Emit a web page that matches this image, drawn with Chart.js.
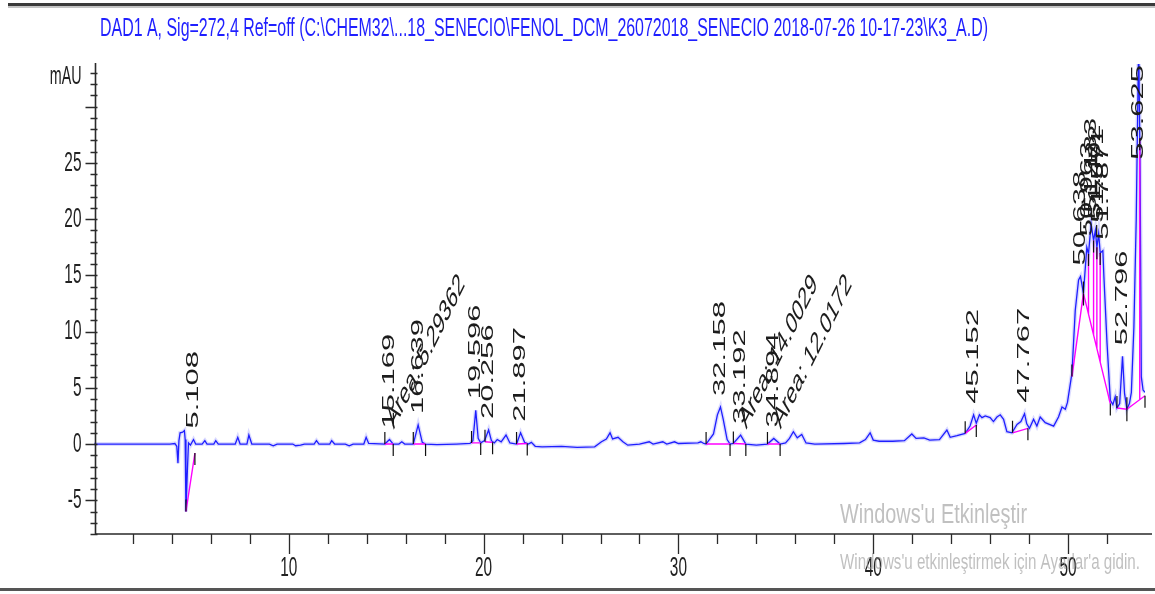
<!DOCTYPE html>
<html>
<head>
<meta charset="utf-8">
<script src="https://cdn.jsdelivr.net/npm/chart.js@4.4.1/dist/chart.umd.min.js"></script>
<style>
  html, body { margin: 0; padding: 0; background: #ffffff; }
  #wrap { width: 1155px; height: 594px; }
</style>
</head>
<body>
<div id="wrap"><canvas id="chrom" width="1155" height="594"></canvas></div>
<script>
// DAD1 A signal at 272 nm: retention time (min) and absorbance (mAU)
const traceTimes = [
  0, 3.9, 4.15, 4.25, 4.31, 4.36, 4.42, 4.55, 4.64, 4.68, 4.72, 4.79, 4.85, 4.95, 5.108, 5.22,
  5.55, 5.69, 5.8, 6.15, 6.25, 6.38, 7.25, 7.38, 7.5, 7.85, 7.95, 8.1, 9.0, 9.2, 9.4, 10.2,
  10.35, 10.6, 10.8, 11.3, 11.42, 11.55, 12.1, 12.2, 12.35, 12.9, 13.1, 13.3, 13.85, 13.97, 14.1, 14.93,
  15.169, 15.36, 15.65, 15.8, 15.95, 16.39, 16.639, 16.85, 17.02, 17.6, 18.6, 19.3, 19.45, 19.596,
  19.72, 19.85, 20.05, 20.256, 20.4, 20.55, 20.7, 20.9, 21.15, 21.35, 21.69, 21.897, 22.1, 22.3,
  22.45, 22.65, 23.0, 24.0, 24.8, 25.7, 26.05, 26.3, 26.49, 26.62, 26.9, 27.15, 27.4, 28.0, 28.5,
  28.7, 29.2, 29.4, 29.8, 30.0, 31.0, 31.15, 31.3, 31.42, 31.8, 32.0, 32.158, 32.3, 32.5, 32.65,
  32.82, 33.192, 33.46, 34.0, 34.57, 34.894, 35.22, 35.5, 35.7, 35.9, 36.1, 36.33, 36.55, 37.0,
  38.5, 39.3, 39.6, 39.84, 40.0, 40.3, 41.0, 41.6, 41.98, 42.2, 42.6, 42.9, 43.4, 43.78, 43.95,
  44.3, 44.72, 44.97, 45.152, 45.29, 45.45, 45.58, 45.75, 46.0, 46.17, 46.35, 46.52, 46.69, 46.86,
  47.12, 47.38, 47.58, 47.767, 47.88, 48.02, 48.23, 48.4, 48.57, 48.83, 49.26, 49.51, 49.69, 49.86,
  49.97, 50.2, 50.37, 50.54, 50.638, 50.79, 50.963, 51.05, 51.183, 51.31, 51.402, 51.48, 51.571,
  51.65, 51.787, 51.84, 52.0, 52.17, 52.3, 52.42, 52.51, 52.65, 52.796, 52.9, 53.02, 53.15, 53.25,
  53.38, 53.5, 53.625, 53.7, 53.76, 53.85, 53.95
];
const traceSignal = [
  0, 0, 0.05, -0.2, -1.7, 0.3, 1.0, 1.05, 1.2, 0.4, -6.0, -2.5, 0.1, -0.1, 0.4, 0.0,
  0.0, 0.3, 0.0, 0.0, 0.3, 0.0, 0.0, 0.6, 0.0, 0.0, 0.8, 0.0, 0.0, -0.15, 0.0, 0.0,
  -0.15, -0.1, 0.0, 0.0, 0.3, 0.0, 0.0, 0.3, 0.0, 0.0, -0.15, 0.0, 0.0, 0.6, 0.05, 0.0,
  0.4, 0.0, 0.0, 0.2, 0.0, 0.0, 1.7, 0.15, 0.0, -0.05, 0.0, 0.05, 0.3, 3.0,
  0.5, 0.1, 0.3, 1.25, 0.3, 0.1, 0.4, 0.2, 0.8, 0.1, 0.0, 1.0, 0.15, 0.0,
  0.15, -0.2, -0.25, -0.2, -0.3, -0.25, 0.2, 0.45, 1.0, 0.45, 0.6, 0.2, -0.1, 0.0, 0.2,
  0.0, 0.2, 0.0, 0.2, 0.05, 0.1, 0.2, 0.05, 0.0, 0.9, 2.6, 3.3, 2.2, 0.4, 0.0,
  0.05, 0.8, 0.0, -0.1, 0.0, 0.5, 0.0, 0.1, 0.5, 1.1, 0.55, 0.85, 0.1, 0.0,
  0.05, 0.1, 0.4, 1.0, 0.35, 0.25, 0.25, 0.3, 0.9, 0.5, 0.55, 0.35, 0.4, 1.25, 0.6,
  0.75, 0.95, 1.6, 2.6, 1.85, 2.6, 2.35, 2.5, 2.35, 2.0, 2.4, 2.6, 2.2, 1.1,
  1.0, 1.75, 2.0, 2.7, 1.8, 1.4, 2.2, 1.6, 2.4, 1.9, 1.6, 2.4, 3.3, 3.1,
  3.7, 6.3, 11.9, 14.6, 14.9, 13.4, 17.5, 16.9, 19.6, 18.1, 19.0, 17.5, 18.7,
  17.0, 17.2, 14.9, 9.0, 3.9, 3.5, 4.2, 3.2, 3.6, 7.8, 4.5, 3.1, 3.6, 4.6,
  10.4, 20.0, 36.0, 24.0, 6.0, 4.8, 4.6
];

// Integrated peaks: retention times printed above each peak
const peakTimes = [5.108, 15.169, 16.639, 19.596, 20.256, 21.897, 32.158, 33.192, 34.894,
  45.152, 47.767, 50.638, 50.963, 51.183, 51.402, 51.571, 51.787, 52.796, 53.625];

// Manually integrated peaks and their areas
const areaPeaks = [15.169, 33.192, 34.894];
const areaValues = ['5.29362', '14.0029', '12.0172'];

// Integration baselines: start time, start level, end time, end level
const baseStartT = [4.72, 14.93, 16.39, 19.38, 20.07, 21.69, 31.42, 32.82, 34.57, 44.72, 47.15, 50.2, 50.79, 52.51, 53.02];
const baseStartY = [-6.0, 0.0, 0.0, 0.1, 0.2, 0.0, 0.0, 0.05, 0.0, 0.95, 1.0, 6.0, 13.4, 3.2, 3.1];
const baseEndT   = [5.18, 15.36, 17.02, 19.85, 20.46, 22.24, 32.65, 33.46, 35.22, 45.29, 47.94, 50.79, 52.17, 53.02, 53.95];
const baseEndY   = [-0.8, 0.0, 0.0, 0.1, 0.15, 0.05, 0.0, 0.0, 0.0, 1.7, 1.4, 13.4, 3.6, 3.1, 4.3];

// Valley drop lines inside the late cluster
const dropTimes = [51.05, 51.31, 51.48, 51.65, 53.68];

// Axis ticks
const xTickLabels = [10, 20, 30, 40, 50];
const yTickLabels = [-5, 0, 5, 10, 15, 20, 25];

const titleText = 'DAD1 A, Sig=272,4 Ref=off (C:\\CHEM32\\...18_SENECIO\\FENOL_DCM_26072018_SENECIO 2018-07-26 10-17-23\\K3_A.D)';
const yUnit = 'mAU';
const noticeLines = ["Windows'u Etkinleştir", "Windows'u etkinleştirmek için Ayarlar'a gidin."];

const FONT = '"Liberation Sans", Arial, Helvetica, sans-serif';
const SQUEEZE = 0.55;

function interp(ts, ys, t) {
  if (t <= ts[0]) return ys[0];
  for (let i = 1; i < ts.length; i++) {
    if (t <= ts[i]) {
      const f = (t - ts[i - 1]) / (ts[i] - ts[i - 1]);
      return ys[i - 1] + f * (ys[i] - ys[i - 1]);
    }
  }
  return ys[ys.length - 1];
}
function traceAt(t) { return interp(traceTimes, traceSignal, t); }
function baseAt(t) {
  for (let i = 0; i < baseStartT.length; i++) {
    if (t >= baseStartT[i] && t <= baseEndT[i]) {
      const f = (t - baseStartT[i]) / (baseEndT[i] - baseStartT[i]);
      return baseStartY[i] + f * (baseEndY[i] - baseStartY[i]);
    }
  }
  return 0;
}

const tracePts = traceTimes.map((t, i) => ({ x: t, y: traceSignal[i] }));
const basePts = [];
baseStartT.forEach((s, i) => {
  basePts.push({ x: s, y: baseStartY[i] }, { x: baseEndT[i], y: baseEndY[i] }, { x: baseEndT[i], y: null });
});
dropTimes.forEach(t => {
  basePts.push({ x: t, y: baseAt(t) }, { x: t, y: traceAt(t) }, { x: t, y: null });
});

// horizontal text, squeezed sideways
function flatText(ctx, text, x, y, size, align, sx) {
  ctx.save();
  ctx.translate(x, y);
  ctx.scale(sx, 1);
  ctx.font = size + 'px ' + FONT;
  ctx.textAlign = align;
  ctx.textBaseline = 'middle';
  ctx.fillText(text, 0, 0);
  ctx.restore();
}
// rotated text starting at (x, y), angle in degrees counter-clockwise
function turnedText(ctx, text, x, y, size, angleDeg) {
  ctx.save();
  ctx.translate(x, y);
  ctx.scale(SQUEEZE, 1);
  ctx.rotate(-angleDeg * Math.PI / 180);
  ctx.font = size + 'px ' + FONT;
  ctx.textAlign = 'left';
  ctx.textBaseline = 'middle';
  ctx.fillText(text, 0, 0);
  ctx.restore();
}

const chromPlugin = {
  id: 'chromDecor',
  beforeDraw(chart) {
    const ctx = chart.ctx;
    ctx.save();
    ctx.fillStyle = '#ffffff';
    ctx.fillRect(0, 0, chart.width, chart.height);
    ctx.restore();
  },
  afterDatasetsDraw(chart) {
    const ctx = chart.ctx;
    const xs = chart.scales.x, ys = chart.scales.y;
    const area = chart.chartArea;
    ctx.save();
    // integration event marks
    ctx.strokeStyle = '#111111';
    ctx.lineWidth = 1.2;
    baseStartT.forEach((s, i) => {
      const x0 = xs.getPixelForValue(s), y0 = ys.getPixelForValue(baseStartY[i]);
      const x1 = xs.getPixelForValue(baseEndT[i]), y1 = ys.getPixelForValue(baseEndY[i]);
      ctx.beginPath();
      ctx.moveTo(x0, y0); ctx.lineTo(x0, y0 - 12);
      ctx.moveTo(x1, y1); ctx.lineTo(x1, y1 + 12);
      ctx.stroke();
    });
    dropTimes.forEach(t => {
      const x = xs.getPixelForValue(t), y = ys.getPixelForValue(traceAt(t));
      if (y > area.top) {
        ctx.beginPath(); ctx.moveTo(x, y); ctx.lineTo(x, y + 12); ctx.stroke();
      }
    });
    // retention time labels
    ctx.fillStyle = '#1c1c1c';
    const size = 31;
    ctx.font = size + 'px ' + FONT;
    peakTimes.forEach(t => {
      const text = t.toFixed(3);
      const len = ctx.measureText(text).width;
      const x = xs.getPixelForValue(t);
      let y = ys.getPixelForValue(traceAt(t)) - 11;
      if (y - len < area.top) y = area.top + len + 1;
      turnedText(ctx, text, x, y, size, 90);
    });
    // area labels
    areaPeaks.forEach((p, i) => {
      const k = peakTimes.indexOf(p);
      let endT = p;
      baseStartT.forEach((s, j) => { if (p >= s && p <= baseEndT[j]) endT = baseEndT[j]; });
      const x = xs.getPixelForValue(endT) - 3;
      const y = ys.getPixelForValue(0) - 20;
      turnedText(ctx, 'Area: ' + areaValues[i], x, y, size, 48);
    });
    ctx.restore();
  },
  afterDraw(chart) {
    const ctx = chart.ctx;
    const xs = chart.scales.x, ys = chart.scales.y;
    const area = chart.chartArea;
    ctx.save();
    // frame lines of the report
    ctx.fillStyle = '#3a3a3a';
    ctx.fillRect(8, 3, 1147, 3);
    ctx.fillStyle = '#c4c4c4';
    ctx.fillRect(8, 6, 1147, 2);
    ctx.fillStyle = '#555555';
    ctx.fillRect(0, 588, 1155, 3);

    // axes
    const ax = area.left + 1.5;
    const ay = area.bottom;
    ctx.strokeStyle = '#2a2a2a';
    ctx.lineWidth = 1.6;
    ctx.beginPath();
    ctx.moveTo(ax, area.top - 1); ctx.lineTo(ax, ay);
    ctx.moveTo(ax, ay); ctx.lineTo(1152, ay);
    ctx.stroke();

    // y ticks every 1 mAU, long every 5
    ctx.lineWidth = 1.3;
    ctx.beginPath();
    for (let v = Math.ceil(ys.min); v <= Math.floor(ys.max); v++) {
      const y = Math.round(ys.getPixelForValue(v)) + 0.5;
      const major = v % 5 === 0;
      ctx.moveTo(ax - (major ? 10 : 5), y);
      ctx.lineTo(ax + 2, y);
    }
    // x ticks every 2 min, long every 10
    for (let t = 2; t <= xs.max; t += 2) {
      const x = Math.round(xs.getPixelForValue(t)) + 0.5;
      const major = t % 10 === 0;
      ctx.moveTo(x, ay);
      ctx.lineTo(x, ay + (major ? 20 : 10));
    }
    ctx.stroke();

    // tick labels
    ctx.fillStyle = '#222222';
    yTickLabels.forEach(v => {
      flatText(ctx, String(v), ax - 14, ys.getPixelForValue(v), 28, 'right', SQUEEZE);
    });
    flatText(ctx, yUnit, ax - 14, 77, 26, 'right', SQUEEZE);
    xTickLabels.forEach(v => {
      flatText(ctx, String(v), xs.getPixelForValue(v), 568, 28, 'center', SQUEEZE);
    });

    // title, fitted to its line
    ctx.fillStyle = '#1f1fff';
    ctx.font = '26px ' + FONT;
    const tw = ctx.measureText(titleText).width;
    flatText(ctx, titleText, 100, 29, 26, 'left', 888 / tw);

    // activation notice
    ctx.fillStyle = 'rgba(150,150,150,0.6)';
    ctx.font = '27px ' + FONT;
    let w = ctx.measureText(noticeLines[0]).width;
    flatText(ctx, noticeLines[0], 840, 516, 27, 'left', 187 / w);
    ctx.font = '22px ' + FONT;
    w = ctx.measureText(noticeLines[1]).width;
    flatText(ctx, noticeLines[1], 840, 563, 22, 'left', 300 / w);
    ctx.restore();
  }
};

new Chart(document.getElementById('chrom'), {
  type: 'scatter',
  data: {
    datasets: [
      { label: 'baseline', data: basePts, showLine: true, spanGaps: false, borderColor: '#ff00ff',
        borderWidth: 1.4, pointRadius: 0, tension: 0, order: 0 },
      { label: 'DAD1 A', data: tracePts, showLine: true, borderColor: '#1e1eff',
        borderWidth: 1.3, pointRadius: 0, tension: 0, order: 1 },
      { label: 'DAD1 A halo', data: tracePts, showLine: true, borderColor: 'rgba(110,110,255,0.25)',
        borderWidth: 4, pointRadius: 0, tension: 0, order: 2 }
    ]
  },
  options: {
    responsive: false,
    animation: false,
    devicePixelRatio: 1,
    events: [],
    layout: { padding: { left: 94, right: 10, top: 64, bottom: 60 } },
    scales: {
      x: { type: 'linear', min: 0, max: 53.95, display: false },
      y: { type: 'linear', min: -8, max: 33.8, display: false }
    },
    plugins: { legend: { display: false }, tooltip: { enabled: false }, title: { display: false } }
  },
  plugins: [chromPlugin]
});
</script>
</body>
</html>
